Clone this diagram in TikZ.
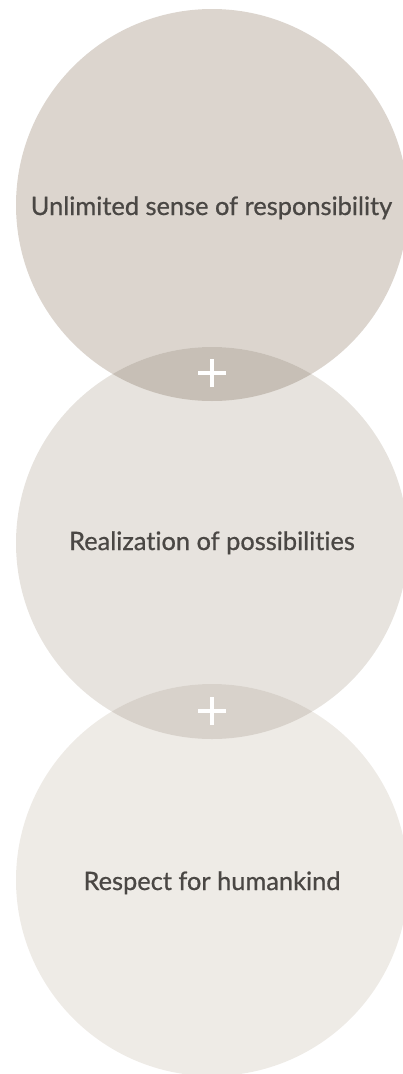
\documentclass[tikz,border=0pt]{standalone}
\usepackage{fontspec}
\setmainfont{Lato}[Ligatures=NoCommon,FakeBold=0.7]
\definecolor{cone}{RGB}{220,213,206}
\definecolor{ctwo}{RGB}{231,227,222}
\definecolor{cthree}{RGB}{238,235,230}
\definecolor{lapone}{RGB}{199,191,182}
\definecolor{laptwo}{RGB}{216,210,203}
\definecolor{txt}{RGB}{74,71,68}
\begin{document}
\begin{tikzpicture}[x=1pt,y=-1pt,
  disc/.style={circle,inner sep=0pt,minimum size=392pt},
  label/.style={text=txt,font=\fontsize{25.4}{30}\selectfont,anchor=base},
  plusbar/.style={white,line width=4.8pt}]
\useasboundingbox (0,0) rectangle (402,1074);
\node[disc,fill=cone] (c1) at (212,205) {};
\node[disc,fill=ctwo] (c2) at (212,543) {};
\node[disc,fill=cthree] (c3) at (212,880) {};
\begin{scope}
  \clip (c1.center) circle[radius=196];
  \fill[lapone] (c2.center) circle[radius=196];
\end{scope}
\begin{scope}
  \clip (c2.center) circle[radius=196];
  \fill[laptwo] (c3.center) circle[radius=196];
\end{scope}
\coordinate (p1) at (212,373);
\coordinate (p2) at (212,711);
\foreach \p in {p1,p2}{
  \draw[plusbar] ([xshift=-14pt]\p) -- ([xshift=14pt]\p);
  \draw[plusbar] ([yshift=-14pt]\p) -- ([yshift=14pt]\p);
}
\node[label] (t1) at (211.5,215) {Unlimited sense of responsibility};
\node[label] (t2) at (212,550) {Realization of possibilities};
\node[label] (t3) at (212,890) {Respect for humankind};
\end{tikzpicture}
\end{document}
